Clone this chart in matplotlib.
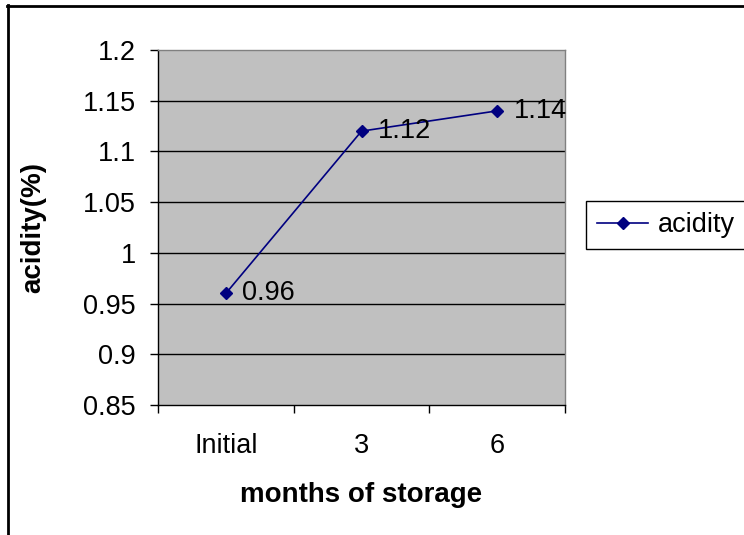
import matplotlib
matplotlib.use("Agg")
import matplotlib.pyplot as plt
from matplotlib.lines import Line2D

categories = ["Initial", "3", "6"]
acidity = [0.96, 1.12, 1.14]
yticks = [0.85, 0.9, 0.95, 1.0, 1.05, 1.1, 1.15, 1.2]
ytick_labels = ["0.85", "0.9", "0.95", "1", "1.05", "1.1", "1.15", "1.2"]

plt.rcParams['font.family'] = ['Liberation Sans', 'DejaVu Sans']

W, H = 744, 535
fig = plt.figure(figsize=(W / 100, H / 100), dpi=100)

# outer chart border (left and top visible)
fig.add_artist(Line2D([7.5 / W, 7.5 / W], [0, 1 - 5 / H], color='black', lw=2, transform=fig.transFigure))
fig.add_artist(Line2D([7 / W, 1], [1 - 5.5 / H, 1 - 5.5 / H], color='black', lw=2, transform=fig.transFigure))

left, right, top, bottom = 158, 565, 50, 405
ax = fig.add_axes([left / W, 1 - bottom / H, (right - left) / W, (bottom - top) / H])
ax.set_facecolor('#c0c0c0')

FS = 19.5

x = list(range(len(categories)))
ax.plot(x, acidity, color='#000080', marker='D', markersize=6.5, lw=1.2, label='acidity', zorder=3)
for xi, v in zip(x, acidity):
    ax.annotate(f"{v:g}", (xi, v), xytext=(12, 0), textcoords='offset points',
                ha='left', va='center', fontsize=FS, color='black')

ax.set_xlim(-0.5, len(categories) - 0.5)
ax.set_ylim(0.85, 1.2)
ax.set_yticks(yticks)
ax.set_yticklabels(ytick_labels, fontsize=FS)
ax.set_xticks(x)
ax.set_xticklabels(categories, fontsize=FS)
ax.tick_params(axis='x', length=0, pad=20)
ax.tick_params(axis='y', length=6, width=1, direction='out', pad=10)
# boundary ticks on x axis
ax.set_xticks([-0.5, 0.5, 1.5, 2.5], minor=True)
ax.tick_params(axis='x', which='minor', length=6, width=1, direction='out')

for yv in yticks[1:-1]:
    ax.axhline(yv, color='black', lw=1, zorder=1)

ax.spines['left'].set_color('black')
ax.spines['bottom'].set_color('black')
ax.spines['top'].set_color('#808080')
ax.spines['right'].set_color('#808080')
for s in ax.spines.values():
    s.set_linewidth(1)

ax.set_ylabel('acidity(%)', fontsize=20, fontweight='bold', labelpad=26)
ax.set_xlabel('months of storage', fontsize=20, fontweight='bold', labelpad=17)

leg = ax.legend(loc='center left', bbox_to_anchor=(586 / W, 1 - 225 / H), bbox_transform=fig.transFigure,
                fontsize=FS, frameon=True, fancybox=False, edgecolor='black', framealpha=1,
                borderpad=0.4, handlelength=1.9, handletextpad=0.35, borderaxespad=0)
leg.get_frame().set_linewidth(1)

fig.savefig('out.png', dpi=100)
